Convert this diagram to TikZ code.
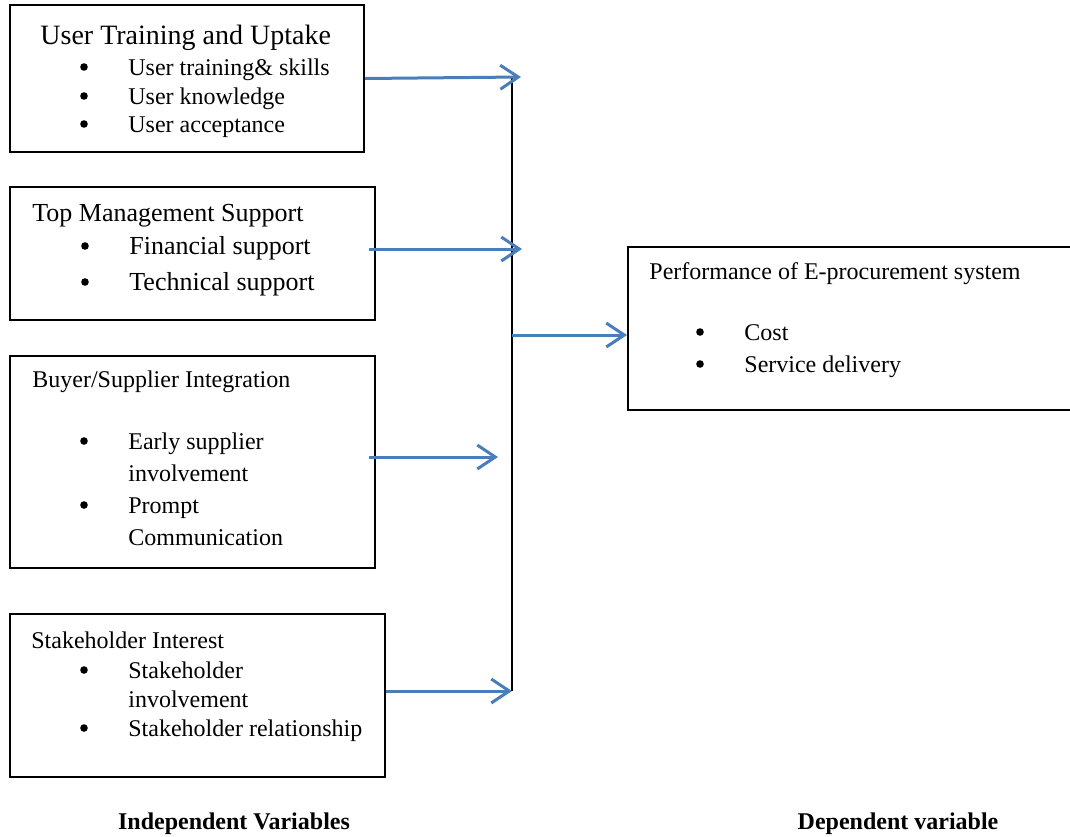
\documentclass[tikz,border=0pt]{standalone}
\usepackage{fontspec}
\setmainfont{Liberation Serif}
\usetikzlibrary{arrows.meta,fit}
\definecolor{linkblue}{RGB}{74,126,187}
\tikzset{
  varbox/.style={draw, line width=1pt, inner sep=0pt},
  txt/.style={anchor=base west, inner sep=0pt, font=\fontsize{12}{12}\selectfont},
  dot/.style={circle, fill, inner sep=0pt, minimum size=3.8pt},
  link/.style={draw=linkblue, line width=1.5pt, -{Straight Barb[length=9pt,width=12pt]}},
}
% bullet line: [size] name, bullet x, baseline y, text
\newcommand{\itemline}[5][12]{
  \node[dot] (#2dot) at (#3,#4-8) {};
  \node[txt, font=\fontsize{#1}{#1}\selectfont] (#2) at (#3+44,#4) {#5};
}
\newcommand{\boxtitle}[4][12]{\node[txt, font=\fontsize{#1}{#1}\selectfont] (#2) at (#3) {#4};}

\begin{document}
\begin{tikzpicture}[x=0.5pt, y=-0.5pt]
\useasboundingbox (0,0) rectangle (1070,836);
% independent variables
\node[varbox, fit={(10,5) (364,152)}] (b1) {};
\boxtitle[14]{t1}{40,44}{User Training and Uptake}
\itemline{u1}{84}{75}{User training\& skills}
\itemline{u2}{84}{104}{User knowledge}
\itemline{u3}{84}{132}{User acceptance}

\node[varbox, fit={(10,187) (375,320)}] (b2) {};
\boxtitle[13]{t2}{32,221}{Top Management Support}
\itemline[13]{m1}{85}{254}{Financial support}
\itemline[13]{m2}{85}{290}{Technical support}

\node[varbox, fit={(10,356) (375,568)}] (b3) {};
\boxtitle{t3}{32,387}{Buyer/Supplier Integration}
\itemline{s1}{84}{449}{Early supplier}
\node[txt] (s1b) at (128,481) {involvement};
\itemline{s2}{84}{513}{Prompt}
\node[txt] (s2b) at (128,545) {Communication};

\node[varbox, fit={(10,614) (385,777)}] (b4) {};
\boxtitle{t4}{31,648}{Stakeholder Interest}
\itemline{k1}{84}{678}{Stakeholder}
\node[txt] (k1b) at (128,707) {involvement};
\itemline{k2}{84}{736}{Stakeholder relationship}

% dependent variable
\node[varbox, fit={(628,247) (1090,410)}] (perf) {};
\boxtitle{t5}{649,279}{Performance of E-procurement system}
\itemline{p1}{700}{340}{Cost}
\itemline{p2}{700}{372}{Service delivery}

% links into the bus
\coordinate (in1) at (521,77);
\coordinate (in2) at (522,249);
\coordinate (in3) at (498,457);
\coordinate (in4) at (512,691);
\coordinate (bustop) at (512,78);
\coordinate (busmid) at (512,335);
\draw[line width=1pt] (bustop) -- (in4);
\draw[link] (b1.east) -- (in1);
\draw[link] ([xshift=-3.5pt]b2.east |- in2) -- (in2);
\draw[link] ([xshift=-3.5pt]b3.east |- in3) -- (in3);
\draw[link] (b4.east |- in4) -- (in4);
\draw[link] (busmid) -- (busmid -| perf.west);

\node[anchor=base, font=\bfseries\fontsize{12}{12}\selectfont] (indep) at (234,829) {Independent Variables};
\node[anchor=base, font=\bfseries\fontsize{12}{12}\selectfont] (dep) at (898,829) {Dependent variable};
\end{tikzpicture}
\end{document}
